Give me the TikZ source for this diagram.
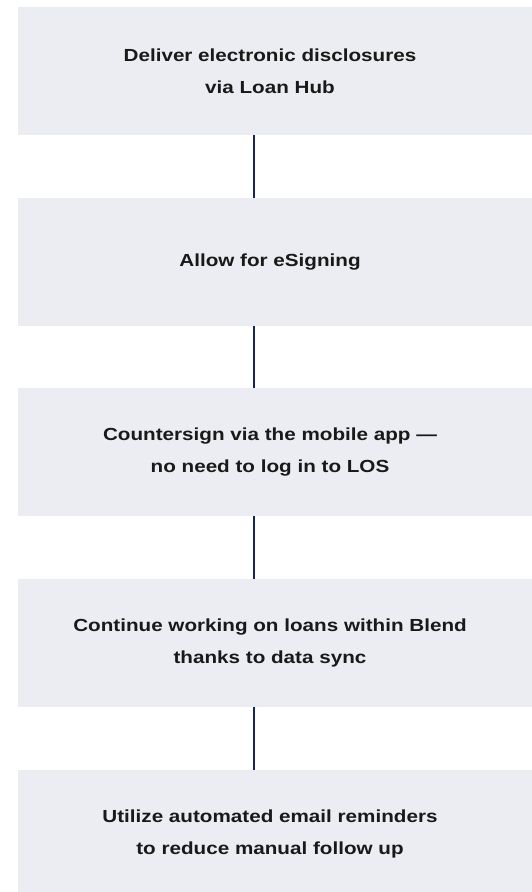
\documentclass[tikz,border=0pt]{standalone}
\usepackage{fontspec}
\setmainfont{Liberation Sans}[FakeStretch=1.18]
\definecolor{boxgray}{HTML}{ECEDF2}
\definecolor{linknavy}{HTML}{15245C}
\tikzset{
  stepbox/.style={fill=boxgray, minimum width=514pt, minimum height=128pt, inner sep=0pt},
  steptext/.style={align=center, text=black!90, font=\fontsize{17.5}{32}\selectfont\bfseries},
  link/.style={draw=linknavy, line width=2pt}
}
\begin{document}
\begin{tikzpicture}[x=1pt,y=-1pt]
\clip (0,0) rectangle (532,892);
\node [stepbox] (s1) at (275,71) {};
\node [stepbox] (s2) at (275,262) {};
\node [stepbox] (s3) at (275,452) {};
\node [stepbox] (s4) at (275,643) {};
\node [stepbox] (s5) at (275,834) {};
\node [steptext] (t1) at ([xshift=-5pt]s1.center) {Deliver electronic disclosures\\via Loan Hub};
\node [steptext] (t2) at ([xshift=-5pt]s2.center) {Allow for eSigning};
\node [steptext] (t3) at ([xshift=-5pt]s3.center) {Countersign via the mobile app —\\no need to log in to LOS};
\node [steptext] (t4) at ([xshift=-5pt]s4.center) {Continue working on loans within Blend\\thanks to data sync};
\node [steptext] (t5) at ([xshift=-5pt]s5.center) {Utilize automated email reminders\\to reduce manual follow up};
\draw [link] ([xshift=-21.5pt]s1.south) -- ([xshift=-21.5pt]s2.north);
\draw [link] ([xshift=-21.5pt]s2.south) -- ([xshift=-21.5pt]s3.north);
\draw [link] ([xshift=-21.5pt]s3.south) -- ([xshift=-21.5pt]s4.north);
\draw [link] ([xshift=-21.5pt]s4.south) -- ([xshift=-21.5pt]s5.north);
\end{tikzpicture}
\end{document}
